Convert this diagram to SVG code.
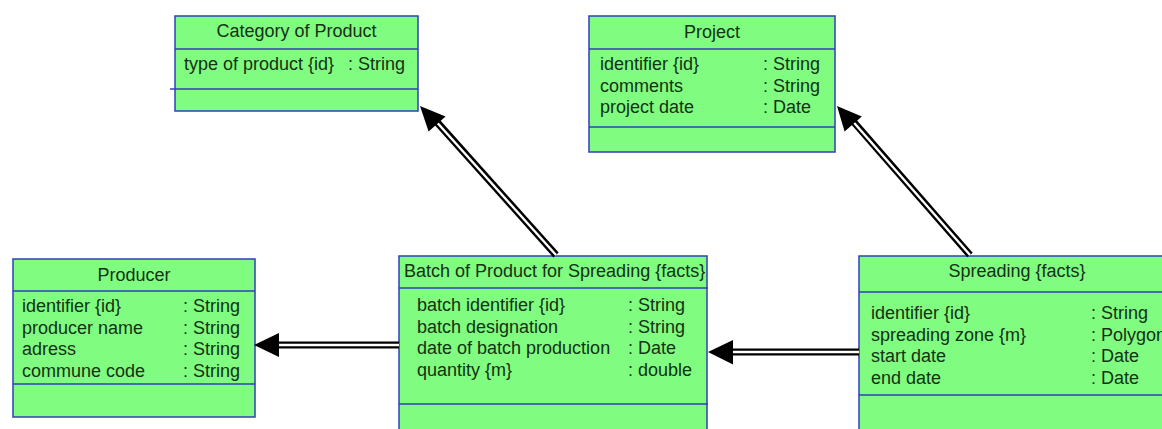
<svg xmlns="http://www.w3.org/2000/svg" width="1162" height="429" viewBox="0 0 1162 429">
<style>
.box{fill:#80fc80;stroke:#2f3fb8;stroke-width:1.5}
.sep{stroke:#2f3fb8;stroke-width:1.5}
text{font-family:"Liberation Sans",Arial,sans-serif;font-size:18px;fill:#143214}
.t{text-anchor:middle}
.outer{stroke:#000;stroke-width:7.2;fill:none}
.inner{stroke:#fff;stroke-width:2.4;fill:none}
.head{fill:#000}
</style>
<rect width="1162" height="429" fill="#fff"/>
<g id="category">
<rect class="box" x="175" y="16" width="243" height="95"/>
<line class="sep" x1="175" y1="49" x2="418" y2="49"/>
<line class="sep" x1="170" y1="89" x2="418" y2="89"/>
<text class="t" x="296.5" y="37">Category of Product</text>
<text x="184" y="70">type of product {id}</text>
<text x="348" y="70">: String</text>
</g>
<g id="project">
<rect class="box" x="589" y="16" width="246" height="136"/>
<line class="sep" x1="589" y1="49" x2="835" y2="49"/>
<line class="sep" x1="589" y1="127" x2="835" y2="127"/>
<text class="t" x="712" y="38">Project</text>
<text x="600" y="70">identifier {id}</text>
<text x="763" y="70">: String</text>
<text x="600" y="91.6">comments</text>
<text x="763" y="91.6">: String</text>
<text x="600" y="113.2">project date</text>
<text x="763" y="113.2">: Date</text>
</g>
<g id="producer">
<rect class="box" x="13" y="259" width="242" height="158"/>
<line class="sep" x1="13" y1="291" x2="255" y2="291"/>
<line class="sep" x1="13" y1="384" x2="255" y2="384"/>
<text class="t" x="134" y="281">Producer</text>
<text x="22" y="312">identifier {id}</text>
<text x="183" y="312">: String</text>
<text x="22" y="333.6">producer name</text>
<text x="183" y="333.6">: String</text>
<text x="22" y="355.2">adress</text>
<text x="183" y="355.2">: String</text>
<text x="22" y="376.8">commune code</text>
<text x="183" y="376.8">: String</text>
</g>
<g id="batch">
<rect class="box" x="399" y="256" width="308" height="190"/>
<line class="sep" x1="399" y1="288" x2="708" y2="288"/>
<line class="sep" x1="399" y1="404" x2="708" y2="404"/>
<text x="404" y="277">Batch of Product for Spreading {facts}</text>
<text x="417" y="311">batch identifier {id}</text>
<text x="628" y="311">: String</text>
<text x="417" y="332.6">batch designation</text>
<text x="628" y="332.6">: String</text>
<text x="417" y="354.2">date of batch production</text>
<text x="628" y="354.2">: Date</text>
<text x="417" y="375.8">quantity {m}</text>
<text x="628" y="375.8">: double</text>
</g>
<g id="spreading">
<rect class="box" x="859" y="256" width="320" height="190"/>
<line class="sep" x1="859" y1="292" x2="1179" y2="292"/>
<line class="sep" x1="859" y1="395" x2="1179" y2="395"/>
<text class="t" x="1017" y="277">Spreading {facts}</text>
<text x="871" y="319">identifier {id}</text>
<text x="1091" y="319">: String</text>
<text x="871" y="340.6">spreading zone {m}</text>
<text x="1091" y="340.6">: Polygon</text>
<text x="871" y="362.2">start date</text>
<text x="1091" y="362.2">: Date</text>
<text x="871" y="383.8">end date</text>
<text x="1091" y="383.8">: Date</text>
</g>
<g id="connectors">
<path class="outer" d="M556 255 L436 121"/>
<path class="inner" d="M556 255 L433 118"/>
<polygon class="head" points="420,106 428.6,131.5 445.6,116.4"/>
<path class="outer" d="M970 255 L852 120"/>
<path class="inner" d="M970 255 L849 117"/>
<polygon class="head" points="837,106 844.6,131.4 861.8,116.5"/>
<path class="outer" d="M399 345 L275 345"/>
<path class="inner" d="M399 345 L272 345"/>
<polygon class="head" points="254,345 279,333 279,357"/>
<path class="outer" d="M859 352 L730 352"/>
<path class="inner" d="M859 352 L727 352"/>
<polygon class="head" points="708,352 733,340 733,364.5"/>
</g>
</svg>
